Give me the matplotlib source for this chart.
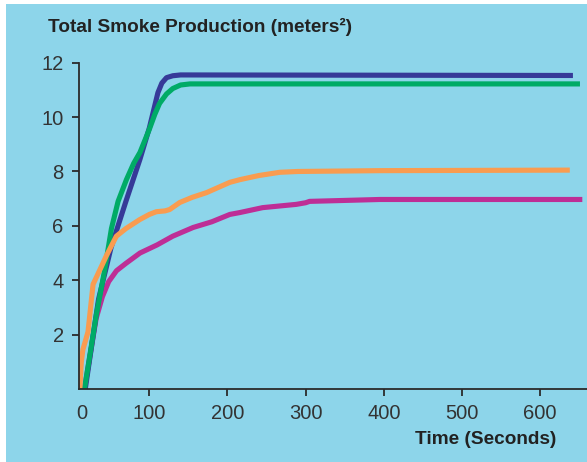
import matplotlib.pyplot as plt
from matplotlib.patches import Rectangle

# time (s) / smoke production (m^2)
blue_t = [18, 35, 51, 70, 88, 100, 111, 116, 122, 130, 140, 642]
blue_v = [0, 3.3, 5.2, 6.9, 8.45, 9.6, 10.9, 11.25, 11.45, 11.52, 11.55, 11.53]

green_t = [17, 32, 43, 51.5, 60, 70.7, 80, 88, 100, 107, 113, 122, 130, 140, 152, 651]
green_v = [0, 2.7, 4.4, 5.9, 6.9, 7.7, 8.3, 8.7, 9.55, 10.1, 10.5, 10.85, 11.05, 11.18, 11.22, 11.22]

orange_t = [11, 13, 15, 21.5, 28, 38.6, 45, 57.8, 70, 87.7, 100, 109, 120, 126, 132, 139,
            155, 173, 203, 216, 240, 267, 290, 395, 638]
orange_v = [0, 1.0, 1.45, 2.1, 3.85, 4.5, 4.9, 5.62, 5.9, 6.23, 6.42, 6.52, 6.55, 6.6, 6.72, 6.86,
            7.05, 7.22, 7.6, 7.7, 7.85, 7.97, 8.0, 8.03, 8.05]

magenta_t = [17, 32, 40, 48, 58, 70, 88, 110, 130, 156, 180, 203, 216, 245, 288, 300, 305, 395, 654]
magenta_v = [0, 2.6, 3.4, 3.95, 4.35, 4.62, 5.0, 5.3, 5.62, 5.94, 6.15, 6.42, 6.49, 6.67, 6.79, 6.85, 6.9, 6.97, 6.97]

xticks = [13, 100, 200, 300, 400, 500, 600]
xtick_labels = ['0', '100', '200', '300', '400', '500', '600']
yticks = [2, 4, 6, 8, 10, 12]

font = ['Liberation Sans', 'DejaVu Sans']
bg = '#8dd5ea'
dark = '#2b2b2b'

fig = plt.figure(figsize=(5.87, 4.62), dpi=100, facecolor='white')
fig.patches.append(Rectangle((6 / 587, 0), 1, 458 / 462, transform=fig.transFigure,
                             facecolor=bg, edgecolor='none', zorder=-5))

ax = fig.add_axes([79 / 587, 73 / 462, 508 / 587, 326.3 / 462])
ax.set_facecolor('none')

lw = 3.7
ax.plot(magenta_t, magenta_v, color='#be2e96', lw=lw, solid_joinstyle='round', solid_capstyle='butt')
ax.plot(blue_t, blue_v, color='#363a98', lw=lw, solid_joinstyle='round', solid_capstyle='butt')
ax.plot(green_t, green_v, color='#00ab66', lw=lw, solid_joinstyle='round', solid_capstyle='butt')
ax.plot(orange_t, orange_v, color='#f99c50', lw=lw, solid_joinstyle='round', solid_capstyle='butt')

ax.set_xlim(10, 660)
ax.set_ylim(0, 12)
ax.set_xticks(xticks)
ax.set_xticklabels(xtick_labels)
ax.set_yticks(yticks)
ax.xaxis.get_major_ticks()[0].tick1line.set_visible(False)

for s in ['top', 'right']:
    ax.spines[s].set_visible(False)
for s in ['left', 'bottom']:
    ax.spines[s].set_color(dark)
    ax.spines[s].set_linewidth(1.3)
ax.tick_params(length=5, width=1.3, color=dark, labelcolor='#333333', labelsize=14.5, pad=6)
for lab in ax.get_xticklabels() + ax.get_yticklabels():
    lab.set_family(font)

fig.text(48 / 587, 1 - 27 / 462, 'Total Smoke Production (meters²)', family=font,
         fontsize=13.7, fontweight='bold', color='#222222', ha='left', va='center')
fig.text(556 / 587, 1 - 440 / 462, 'Time (Seconds)', family=font,
         fontsize=13.7, fontweight='bold', color='#222222', ha='right', va='center')

fig.savefig('out.png', dpi=100, facecolor='white')
